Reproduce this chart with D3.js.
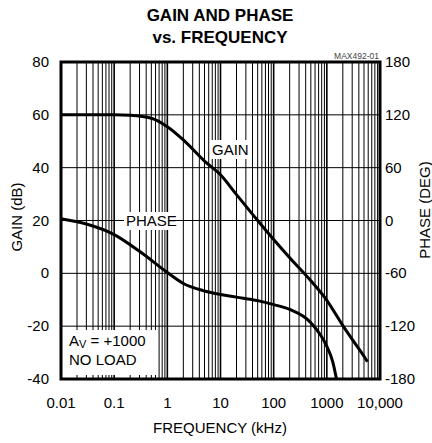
<!DOCTYPE html>
<html><head><meta charset="utf-8">
<script src="https://cdn.jsdelivr.net/npm/d3@7"></script>
<style>body{margin:0;background:#fff}text{font-family:"Liberation Sans",Arial,sans-serif;fill:#000}</style>
</head><body><svg id="c" width="432" height="443"></svg>
<script>
const gainFreq = [0.01,0.1,0.2,0.5,1,2,5,10,20,50,100,200,500,1000,2000,3000,5000,5800];
const gainDb   = [60,60,59.8,58.7,55.5,50.5,42.5,37.3,29.8,20,12.8,5.9,-2.8,-10.2,-19.8,-25,-31.4,-33.5];
const phaseFreq = [0.01,0.03,0.1,0.3,1,2,5,10,20,50,100,200,500,1000,1300,1520];
const phaseDeg  = [2,-4,-16,-35,-59,-71.5,-80,-84,-87,-91,-95.5,-101,-116,-143,-161,-180];
const xTicks = [0.01,0.1,1,10,100,1000,10000];
const xTickLabels = ["0.01","0.1","1","10","100","1000","10,000"];
const gainTicks = [80,60,40,20,0,-20,-40];
const phaseTicks = [180,120,60,0,-60,-120,-180];

const svg = d3.select("#c");
const L=61,R=380,T=62,B=379;
const x = d3.scaleLog().domain([0.01,10000]).range([L,R]);
const yG = d3.scaleLinear().domain([-40,80]).range([B,T]);
const yP = d3.scaleLinear().domain([-180,180]).range([B,T]);

// title
svg.append("text").attr("x",220).attr("y",21).attr("text-anchor","middle")
  .style("font-weight","bold").style("font-size","17px").text("GAIN AND PHASE");
svg.append("text").attr("x",220).attr("y",43).attr("text-anchor","middle")
  .style("font-weight","bold").style("font-size","17px").text("vs. FREQUENCY");
svg.append("text").attr("x",379).attr("y",59).attr("text-anchor","end")
  .style("font-size","8.5px").style("fill","#444").text("MAX492-01");

// grid
const g = svg.append("g");
const minor=[];
for(let d=-2; d<4; d++) for(let k=2;k<10;k++) minor.push(k*Math.pow(10,d));
g.selectAll("line.mn").data(minor).enter().append("line")
  .attr("x1",d=>x(d)).attr("x2",d=>x(d)).attr("y1",T).attr("y2",B)
  .attr("stroke","#000").attr("stroke-width",1);
g.selectAll("line.mj").data(xTicks).enter().append("line")
  .attr("x1",d=>x(d)).attr("x2",d=>x(d)).attr("y1",T).attr("y2",B)
  .attr("stroke","#000").attr("stroke-width",1.6);
g.selectAll("line.h").data(gainTicks).enter().append("line")
  .attr("x1",L).attr("x2",R).attr("y1",d=>yG(d)).attr("y2",d=>yG(d))
  .attr("stroke","#000").attr("stroke-width",1);

function box(x0,y0,w,h){svg.append("rect").attr("x",x0).attr("y",y0).attr("width",w).attr("height",h).attr("fill","#fff");}

// curves
const line = d3.line().curve(d3.curveMonotoneX);
svg.append("path").attr("d",line(gainFreq.map((f,i)=>[x(f),yG(gainDb[i])])))
  .attr("fill","none").attr("stroke","#000").attr("stroke-width",3);
svg.append("path").attr("d",line(phaseFreq.map((f,i)=>[x(f),yP(phaseDeg[i])])))
  .attr("fill","none").attr("stroke","#000").attr("stroke-width",3);

box(210,140,38,19);
svg.append("text").attr("x",212).attr("y",155).style("font-size","15px").text("GAIN");
box(124,212,51,18);
svg.append("text").attr("x",126).attr("y",226).style("font-size","15px").text("PHASE");
box(63,330,94,45);
const av = svg.append("text").attr("x",69).attr("y",346).style("font-size","15px");
av.append("tspan").text("A");
av.append("tspan").attr("dy",2).style("font-size","11px").text("V");
av.append("tspan").attr("dy",-2).text(" = +1000");
svg.append("text").attr("x",69).attr("y",365).style("font-size","15px").text("NO LOAD");

// frame
svg.append("rect").attr("x",L).attr("y",T).attr("width",R-L).attr("height",B-T)
  .attr("fill","none").attr("stroke","#000").attr("stroke-width",3);

// axes labels
svg.selectAll("text.gl").data(gainTicks).enter().append("text")
  .attr("x",49).attr("y",d=>yG(d)+5).attr("text-anchor","end").style("font-size","15px").text(d=>d);
svg.selectAll("text.pl").data(phaseTicks).enter().append("text")
  .attr("x",385).attr("y",d=>yP(d)+5).style("font-size","15px").text(d=>d);
svg.selectAll("text.xl").data(xTicks).enter().append("text")
  .attr("x",d=>x(d)).attr("y",408).attr("text-anchor","middle").style("font-size","15px")
  .text((d,i)=>xTickLabels[i]);
svg.append("text").attr("x",220).attr("y",433).attr("text-anchor","middle").style("font-size","15px").text("FREQUENCY (kHz)");
svg.append("text").attr("transform","translate(22,217) rotate(-90)").attr("text-anchor","middle").style("font-size","15px").text("GAIN (dB)");
svg.append("text").attr("transform","translate(430,210) rotate(-90)").attr("text-anchor","middle").style("font-size","15px").text("PHASE (DEG)");
</script></body></html>
